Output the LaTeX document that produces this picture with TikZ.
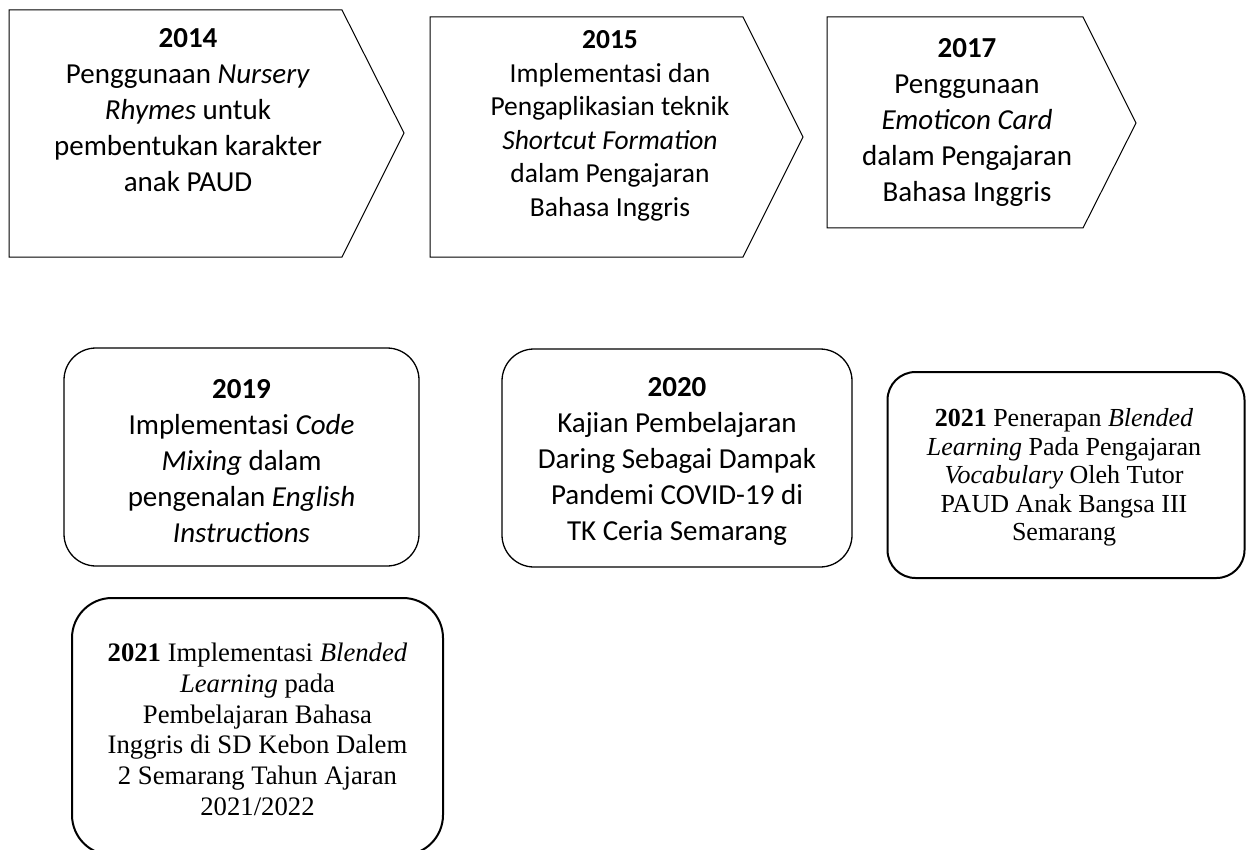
\documentclass[tikz,border=0pt]{standalone}
\usepackage{fontspec}
\setmainfont{Carlito}
\newfontfamily\tnr{Liberation Serif}

\begin{document}
\begin{tikzpicture}[x=1pt, y=-1pt,
    chev/.style={draw, line width=1pt, line join=miter},
    txt/.style={align=center, inner sep=0pt, font=\fontsize{29}{36}\selectfont},
    ttxt/.style={align=center, inner sep=0pt, font=\tnr\fontsize{26}{28.5}\selectfont},
    rbox/.style={draw, rounded corners=32pt, line width=1.3pt, inner sep=0pt},
    tbox/.style={rbox, line width=2pt}
]
\useasboundingbox (0,0) rectangle (1246,850);

% top row: chevrons
\draw[chev] (9,10) -- (342,10) -- (404,133) -- (342,257) -- (9,257) -- cycle;
\draw[chev] (430,17) -- (743,17) -- (803,137) -- (743,257) -- (430,257) -- cycle;
\draw[chev] (827,17) -- (1083,17) -- (1136,123) -- (1083,228) -- (827,228) -- cycle;

\node[txt] (t2014) at (188,110) {\textbf{2014}\\Penggunaan \textit{Nursery}\\\textit{Rhymes} untuk\\pembentukan karakter\\anak PAUD};
\node[txt, font=\fontsize{27.5}{33.5}\selectfont] (t2015) at (610,126) {\textbf{2015}\\Implementasi dan\\Pengaplikasian teknik\\\textit{Shortcut Formation}\\dalam Pengajaran\\Bahasa Inggris};
\node[txt] (t2017) at (967,122) {\textbf{2017}\\Penggunaan\\\textit{Emoticon Card}\\dalam Pengajaran\\Bahasa Inggris};

% rounded boxes
\node[rbox, minimum width=355pt, minimum height=218pt] (b2019) at (241.5,457) {};
\node[rbox, minimum width=350pt, minimum height=218pt] (b2020) at (677,458) {};
\node[tbox, minimum width=357pt, minimum height=206pt, rounded corners=28pt] (b2021a) at (1066,475) {};
\node[tbox, minimum width=371pt, minimum height=257pt, rounded corners=40pt] (b2021b) at (257.5,726.5) {};

\node[txt] (t2019) at (241.5,461) {\textbf{2019}\\Implementasi \textit{Code}\\\textit{Mixing} dalam\\pengenalan \textit{English}\\\textit{Instructions}};
\node[txt] (t2020) at (677,461.5) {\textbf{2020}\\Kajian Pembelajaran\\Daring Sebagai Dampak\\Pandemi COVID-19 di\\TK Ceria Semarang};
\node[ttxt] (t2021a) at (1064,477.5) {\textbf{2021} Penerapan \textit{Blended}\\\textit{Learning} Pada Pengajaran\\\textit{Vocabulary} Oleh Tutor\\PAUD Anak Bangsa III\\Semarang};
\node[ttxt, font=\tnr\fontsize{26.7}{30.7}\selectfont] (t2021b) at (257.5,729.5) {\textbf{2021} Implementasi \textit{Blended}\\\textit{Learning} pada\\Pembelajaran Bahasa\\Inggris di SD Kebon Dalem\\2 Semarang Tahun Ajaran\\2021/2022};
\end{tikzpicture}
\end{document}
